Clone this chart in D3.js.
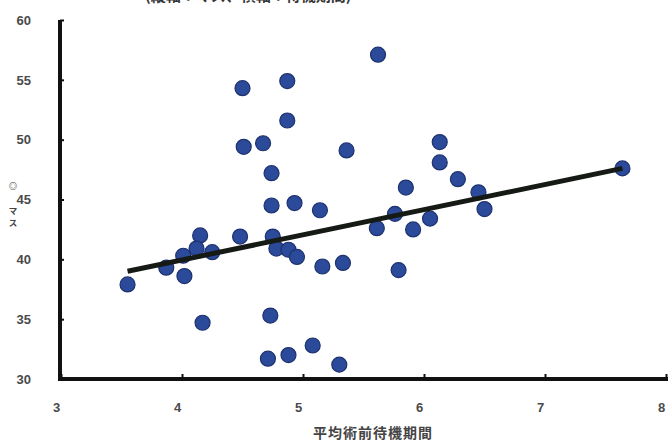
<!DOCTYPE html>
<html>
<head>
<meta charset="utf-8">
<script src="https://cdn.jsdelivr.net/npm/d3@7"></script>
<style>
  html, body { margin: 0; padding: 0; background: #fff; }
  svg { display: block; }
  .tick text { font-weight: bold; fill: #4a4a4a; }
  .x-axis .tick text { font-family: "Liberation Sans Narrow", "Liberation Sans", Arial, sans-serif; font-size: 13px; }
  .y-axis .tick text { font-family: "Liberation Sans", Arial, sans-serif; font-size: 13px; }
</style>
</head>
<body>
<svg id="chart" width="668" height="441"></svg>
<script>
// Mean pre-operative waiting period (x) vs. mass index (y)
const waitPeriod = [3.55, 3.87, 4.02, 4.01, 4.15, 4.12, 4.25, 4.17, 4.48, 4.74,
                    4.74, 4.93, 5.14, 4.75, 4.78, 4.88, 4.95, 5.16, 4.73, 4.71,
                    4.88, 5.08, 5.30, 4.50, 4.87, 4.87, 4.51, 4.67, 5.36, 5.62,
                    6.13, 6.13, 6.28, 5.85, 6.45, 6.50, 5.76, 5.61, 5.91, 6.05,
                    7.64, 5.33, 5.79];
const massValue  = [37.9, 39.3, 38.6, 40.3, 42.0, 40.9, 40.6, 34.7, 41.9, 47.2,
                    44.5, 44.7, 44.1, 41.9, 40.9, 40.8, 40.2, 39.4, 35.3, 31.7,
                    32.0, 32.8, 31.2, 54.3, 54.9, 51.6, 49.4, 49.7, 49.1, 57.1,
                    49.8, 48.1, 46.7, 46.0, 45.6, 44.2, 43.8, 42.6, 42.5, 43.4,
                    47.6, 39.7, 39.1];

// Linear trend line end points
const trendX = [3.55, 7.64];
const trendY = [39.0, 47.6];

const xTicks = [3, 4, 5, 6, 7, 8];
const yTicks = [30, 35, 40, 45, 50, 55, 60];
const xTitle = "平均術前待機期間";
const yTitleChars = ["◎", "マ", "ス"];
const topTitle = "(縦軸：マス、横軸：待機期間)";

const svg = d3.select("#chart");

const x = d3.scaleLinear().domain([3, 8]).range([61, 666]);
const y = d3.scaleLinear().domain([30, 60]).range([379, 20]);

// heading running off the top edge
svg.append("text")
  .attr("x", 145).attr("y", 1)
  .attr("font-family", "'Noto Sans CJK JP', sans-serif")
  .attr("font-weight", "bold")
  .attr("font-size", 15)
  .attr("fill", "#333")
  .text(topTitle);

// x axis
const xAxis = svg.append("g")
  .attr("class", "x-axis")
  .attr("transform", `translate(0,${y(30)})`)
  .call(d3.axisBottom(x).tickValues(xTicks).tickFormat(d3.format("d"))
        .tickSizeInner(-5).tickSizeOuter(0).tickPadding(24));
xAxis.select(".domain").attr("stroke", "#111").attr("stroke-width", 4)
  .attr("d", `M${x(3) - 2},0H668`);
xAxis.selectAll(".tick line").attr("stroke", "#111").attr("stroke-width", 2);
xAxis.selectAll(".tick text").attr("dx", "-5");

// y axis
const yAxis = svg.append("g")
  .attr("class", "y-axis")
  .attr("transform", `translate(${x(3) - 1},0)`)
  .call(d3.axisLeft(y).tickValues(yTicks).tickFormat(d3.format("d"))
        .tickSizeInner(-4).tickSizeOuter(0).tickPadding(29));
yAxis.select(".domain").attr("stroke", "#111").attr("stroke-width", 4)
  .attr("d", `M0,${y(60)}V${y(30) + 2}`);
yAxis.selectAll(".tick line").attr("stroke", "#111").attr("stroke-width", 2);

// axis titles
svg.append("text")
  .attr("x", 373).attr("y", 438)
  .attr("text-anchor", "middle")
  .attr("font-family", "'Noto Sans CJK JP', sans-serif")
  .attr("font-weight", "bold")
  .attr("font-size", 14)
  .attr("letter-spacing", 1)
  .attr("fill", "#444")
  .text(xTitle);

const yTitlePos = [189, 214, 226];
svg.selectAll(".ytitle")
  .data(yTitleChars)
  .join("text")
  .attr("class", "ytitle")
  .attr("x", 13)
  .attr("y", (d, i) => yTitlePos[i])
  .attr("text-anchor", "middle")
  .attr("font-family", "'Noto Sans CJK JP', sans-serif")
  .attr("font-weight", "bold")
  .attr("font-size", 8.5)
  .attr("fill", "#444")
  .text(d => d);

// scatter points
const points = waitPeriod.map((v, i) => ({ x: v, y: massValue[i] }));
svg.append("g")
  .selectAll("circle")
  .data(points)
  .join("circle")
  .attr("cx", d => x(d.x))
  .attr("cy", d => y(d.y))
  .attr("r", 7.5)
  .attr("fill", "#2c4a9a")
  .attr("stroke", "#1d326e")
  .attr("stroke-width", 1.2);

// trend line
const trend = trendX.map((v, i) => ({ x: v, y: trendY[i] }));
svg.append("path")
  .datum(trend)
  .attr("fill", "none")
  .attr("stroke", "#151a15")
  .attr("stroke-width", 5)
  .attr("d", d3.line().x(d => x(d.x)).y(d => y(d.y)));
</script>
</body>
</html>
